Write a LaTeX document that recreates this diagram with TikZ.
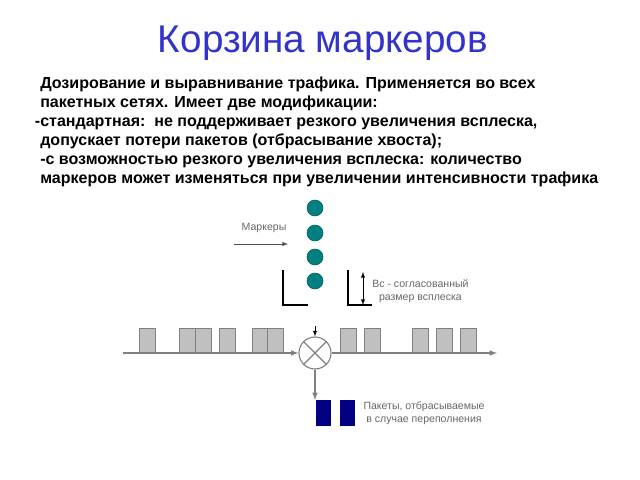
\documentclass[tikz,border=0pt]{standalone}
\usepackage{fontspec}
\setmainfont{Liberation Sans}
\usetikzlibrary{arrows}

\definecolor{titleblue}{RGB}{51,51,204}
\definecolor{markgreen}{RGB}{0,128,128}
\definecolor{dropblue}{RGB}{0,0,128}
\definecolor{pktgray}{RGB}{192,192,192}

\begin{document}
\begin{tikzpicture}[x=0.025cm,y=-0.025cm,
  pkt/.style={draw=gray,fill=pktgray,anchor=south west,inner sep=0,minimum width=0.4cm,minimum height=0.6cm},
  drop/.style={fill=dropblue,anchor=north west,inner sep=0,minimum width=0.375cm,minimum height=0.65cm},
  marker/.style={draw=markgreen!70!black,fill=markgreen,circle,inner sep=0,minimum size=0.4cm},
  lbl/.style={text=black!60,font=\fontsize{7.5}{9}\selectfont,align=center,inner sep=0},
  wire/.style={draw=gray,line width=0.8pt}]

  \useasboundingbox (0,0) rectangle (640,480);

  \node[text=titleblue,font=\fontsize{27.5}{30}\selectfont] (title) at (323,43) {Корзина маркеров};

  \node[anchor=north west,align=left,inner sep=0,font=\bfseries\fontsize{11.4}{13.5}\selectfont] (text) at (40,77)
    {Дозирование и выравнивание трафика. Применяется во всех\\
     пакетных сетях. Имеет две модификации:\\
     \llap{-}стандартная:\ \ не поддерживает резкого увеличения всплеска,\\
     допускает потери пакетов (отбрасывание хвоста);\\
     -с возможностью резкого увеличения всплеска: количество\\
     маркеров может изменяться при увеличении интенсивности трафика};

  % markers
  \foreach \y [count=\i] in {208,233,257,281}
    \node[marker] (m\i) at (315,\y) {};

  \node[lbl] (mlbl) at (264,228) {Маркеры};
  \coordinate (min) at (234,244);
  \coordinate (mout) at (288,244);
  \draw[black!70,-latex] (min) -- (mout);

  % bucket
  \draw[black,line width=0.8pt] (283,270) |- (308,305);
  \draw[black,line width=0.8pt] (372,305) -| (348,270);
  \coordinate (btop) at (363,272);
  \coordinate (bbot) at (363,305);
  \draw[black,latex-latex] (btop) -- (bbot);
  \node[lbl,anchor=west] (bc) at (372,291) {Вс - согласованный\\размер всплеска};

  % mixer
  \node[wire,circle,inner sep=0,minimum size=0.8cm] (mix) at (315,353) {};
  \draw[wire] (mix.north west) -- (mix.south east);
  \draw[wire] (mix.north east) -- (mix.south west);
  \coordinate (gate) at (315,326);
  \draw[-latex] (gate) -- (mix.north);

  % packets in and out
  \foreach \x [count=\i] in {139,179,195,219,252,267}
    \node[pkt] (p\i) at (\x,353) {};
  \foreach \x [count=\i] in {340,364,412,436,460}
    \node[pkt] (q\i) at (\x,353) {};
  \coordinate (lin) at (123,353);
  \coordinate (lout) at (497,353);
  \draw[gray,line width=0.8pt,arrows={-latex}] (lin) -- (mix.west);
  \draw[gray,line width=0.8pt,arrows={-latex}] (mix.east) -- (lout);

  % dropped packets
  \node[drop] (d1) at (316,400) {};
  \node[drop] (d2) at (340,400) {};
  \draw[gray,line width=0.8pt,-latex] (mix.south) -- (mix.south |- d1.north);
  \node[lbl] (dlbl) at (424,413) {Пакеты, отбрасываемые\\в случае переполнения};

\end{tikzpicture}
\end{document}
